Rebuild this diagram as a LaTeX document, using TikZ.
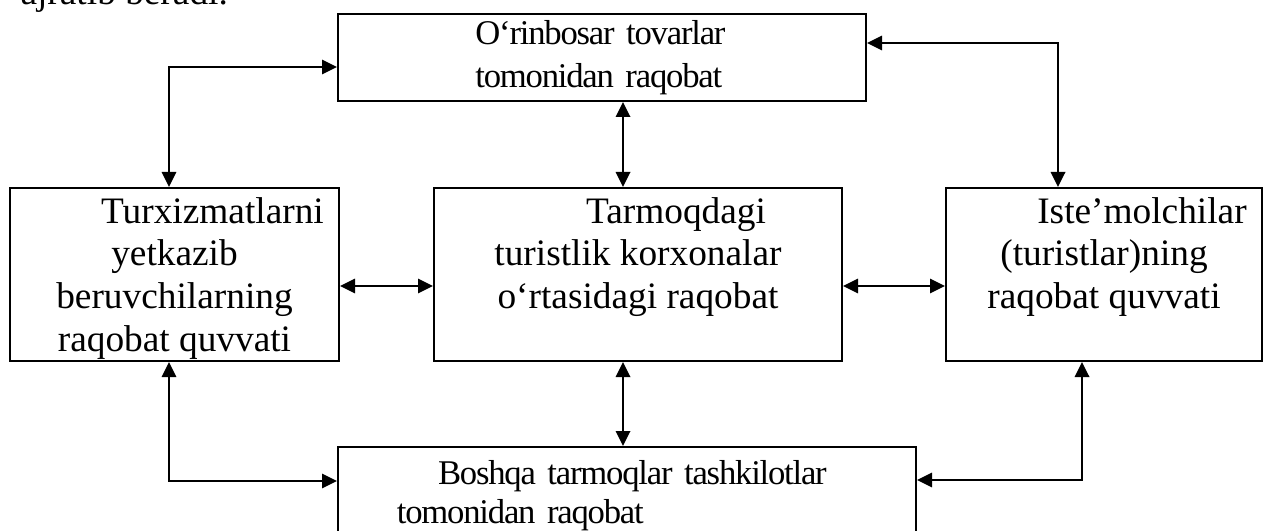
\documentclass[tikz,border=0pt]{standalone}
\usepackage{fontspec}
\setmainfont{Liberation Serif}
\newfontfamily\tightfont[LetterSpace=-3.5]{Liberation Serif}
\usetikzlibrary{positioning, arrows.meta}

\begin{document}
\begin{tikzpicture}[
	x = 0.375pt, y = -0.375pt,
	>={Triangle[length=5.6pt, width=5.4pt]},
	box/.style = {draw, rectangle, line width=0.8pt, inner xsep=2pt, inner ysep=0pt},
	rowbox/.style = {box, align=center, minimum height=64.875pt, font=\fontsize{14}{16.1}\selectfont},
	widebox/.style = {box, align=left, font=\tightfont\fontsize{13}{16.1}\selectfont},
	conn/.style = {draw, <->, line width=0.8pt},
	every edge/.style = {conn}
]
  \useasboundingbox (0, 0) rectangle (1267, 531);
  \clip (0, 0) rectangle (1267, 531);

  % Define vertices
  \node[anchor=base west, inner sep=0pt, font=\fontsize{14}{16.1}\selectfont] at (20, 4.5) (prev) {ajratib beradi.};
  \node[widebox, minimum width=198pt, minimum height=32.625pt, text width=194pt] at (602, 57.5) (top)
    {\hspace*{49.5pt}O‘rinbosar tovarlar\\\hspace*{49.5pt}tomonidan raqobat};
  \node[rowbox, minimum width=123.375pt] at (174.5, 274.5) (left)
    {\hspace*{28.5pt}Turxizmatlarni\\yetkazib\\beruvchilarning\\\raisebox{0pt}[\height][0pt]{raqobat quvvati}};
  \node[rowbox, minimum width=153pt] at (638, 274.5) (mid)
    {\hspace*{28.5pt}Tarmoqdagi\\turistlik korxonalar\\o‘rtasidagi raqobat\\\mbox{}};
  \node[rowbox, minimum width=118.5pt] at (1104, 274.5) (right)
    {\hspace*{28.5pt}Iste’molchilar\\(turistlar)ning\\raqobat quvvati\\\mbox{}};
  \node[widebox, font=\tightfont\fontsize{13}{14.6}\selectfont, minimum width=216.75pt, minimum height=36.75pt, text width=212.75pt] at (627, 496) (bottom)
    {\hspace*{35.5pt}Boshqa tarmoqlar tashkilotlar\\\hspace*{20.1pt}tomonidan raqobat};

  % Bends of the connectors
  \coordinate (tl) at (169, 67);
  \coordinate (tr) at (1058, 43);
  \coordinate (bl) at (169, 481);
  \coordinate (br) at (1082, 480);
  \coordinate (cv) at (623, 0);
  \coordinate (hz) at (0, 286);

  \draw[conn] (tl |- left.north) |- (top.west |- tl);
  \draw[conn] (top.east |- tr) -| (tr |- right.north);
  \draw[conn] (bl |- left.south) |- (bottom.west |- bl);
  \draw[conn] (br |- right.south) |- (bottom.east |- br);
  \draw (top.south -| cv) edge (mid.north -| cv);
  \draw (mid.south -| cv) edge (bottom.north -| cv);
  \draw (left.east |- hz) edge (mid.west |- hz);
  \draw (mid.east |- hz) edge (right.west |- hz);
\end{tikzpicture}
\end{document}
